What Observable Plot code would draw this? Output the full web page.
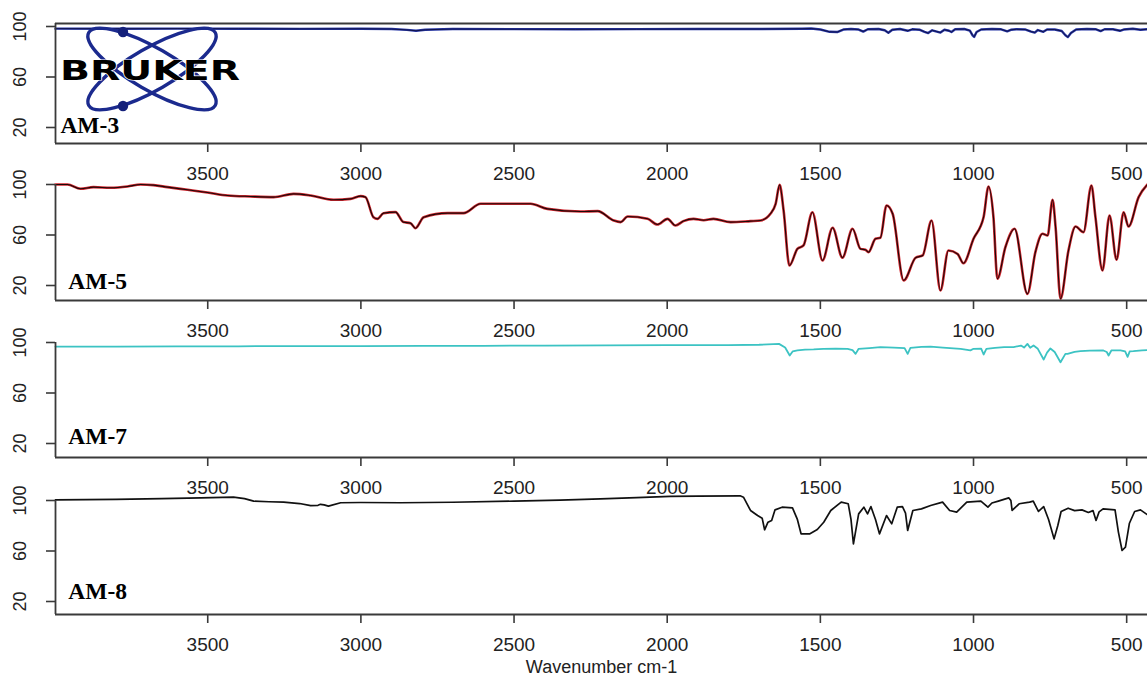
<!DOCTYPE html>
<html><head><meta charset="utf-8">
<script src="https://cdn.jsdelivr.net/npm/d3@7"></script>
<script src="https://cdn.jsdelivr.net/npm/@observablehq/plot@0.6"></script>
<style>
body{margin:0;background:#fff;}
#chart{position:relative;width:1147px;height:682px;overflow:hidden;background:#fff;}
#chart svg{position:absolute;left:0;overflow:visible;}
</style></head><body><div id="chart"></div>
<script>
// ---- data ----
const xTicks = [3500, 3000, 2500, 2000, 1500, 1000, 500];
const yTicks = [20, 60, 100];
const sampleNames = ["AM-3", "AM-5", "AM-7", "AM-8"];
const axisTitle = "Wavenumber cm-1";

// [wavenumber, transmittance]
const am3 = [[3997,98.3],[3800,98.2],[3600,98.3],[3400,98.2],[3200,98.1],[3000,98.2],[2900,98.0],[2850,97.3],[2820,96.6],[2790,97.4],[2700,98.0],[2500,97.9],[2300,97.8],[2100,97.9],[1900,98.0],[1700,98.0],[1560,98.2],[1530,98.4],[1500,97.6],[1470,95.8],[1445,95.6],[1425,97.6],[1400,98.0],[1375,97.6],[1360,96.0],[1345,97.8],[1310,98.0],[1290,97.0],[1278,95.0],[1265,97.4],[1240,98.0],[1215,96.6],[1200,97.8],[1175,97.4],[1160,95.8],[1148,94.8],[1135,97.0],[1120,96.0],[1108,95.2],[1095,97.4],[1080,96.6],[1072,95.6],[1060,97.8],[1030,98.0],[1012,96.8],[1003,93.0],[998,91.8],[990,95.6],[975,97.6],[940,98.0],[910,97.8],[890,96.2],[878,97.4],[860,97.8],[830,97.6],[812,96.0],[800,95.2],[790,97.2],[772,95.8],[760,97.6],[735,97.6],[712,96.4],[700,93.0],[692,91.6],[682,94.8],[665,97.6],[630,98.0],[600,97.8],[585,96.4],[572,97.8],[545,97.8],[522,96.6],[510,97.6],[480,98.2],[455,97.4],[432,97.8]];

const am5 = [[3997,100],[3958,100],[3915,96.6],[3873,97.9],[3817,97.4],[3762,98.4],[3719,100],[3677,99.5],[3631,97.9],[3566,95.8],[3501,93.7],[3435,91.3],[3360,90.5],[3285,90.0],[3220,92.6],[3164,91.3],[3089,87.9],[3034,88.6],[3001,90.8],[2985,90.0],[2959,74.1],[2946,72.8],[2926,77.3],[2887,78.1],[2861,70.2],[2838,69.4],[2822,65.4],[2795,74.1],[2717,77.3],[2665,77.3],[2609,84.7],[2446,84.7],[2391,80.7],[2283,78.6],[2227,78.9],[2175,71.5],[2152,70.2],[2129,74.7],[2064,72.8],[2032,68.3],[1999,72.8],[1973,67.5],[1947,71.0],[1914,72.8],[1881,71.7],[1849,72.8],[1793,70.2],[1728,71.0],[1695,71.5],[1663,76.8],[1646,84.7],[1633,99.7],[1620,79.4],[1601,35.8],[1575,49.0],[1555,51.7],[1526,78.0],[1493,39.8],[1460,65.7],[1428,42.0],[1395,64.9],[1369,49.0],[1353,48.3],[1343,46.4],[1320,57.0],[1304,57.8],[1284,83.4],[1264,76.8],[1228,24.0],[1189,42.0],[1166,43.8],[1137,71.5],[1108,16.0],[1082,47.7],[1052,45.0],[1033,37.6],[1000,57.0],[967,74.3],[951,98.4],[935,74.3],[922,25.3],[896,50.3],[866,64.9],[824,13.4],[798,46.4],[775,61.0],[758,59.6],[742,87.9],[732,66.0],[716,9.5],[690,47.7],[667,66.7],[641,62.2],[615,99.2],[602,74.3],[579,31.9],[556,75.4],[533,40.4],[510,78.0],[494,66.7],[461,90.0],[432,100]];

const am7 = [[3997,96.8],[3800,96.8],[3600,96.9],[3400,97.0],[3200,97.2],[3000,97.1],[2800,97.3],[2600,97.4],[2400,97.6],[2200,97.7],[2000,97.9],[1800,98.0],[1700,98.2],[1635,98.9],[1615,96.0],[1600,89.7],[1590,93.0],[1575,93.7],[1550,94.4],[1522,94.5],[1490,95.0],[1450,95.2],[1411,95.0],[1395,94.0],[1385,91.0],[1375,95.0],[1340,95.6],[1304,96.3],[1260,96.0],[1225,95.6],[1215,91.0],[1206,95.8],[1170,96.6],[1140,96.8],[1100,96.0],[1042,95.0],[1010,93.8],[1000,95.0],[975,95.2],[967,90.5],[958,95.0],[930,95.8],[900,96.3],[869,96.4],[845,97.6],[835,96.0],[824,98.9],[815,95.8],[804,97.6],[790,95.0],[771,86.5],[760,92.0],[749,95.3],[735,92.5],[716,84.4],[700,91.0],[693,91.0],[670,92.5],[651,93.1],[620,93.5],[576,93.7],[565,92.5],[559,89.7],[550,93.7],[520,93.8],[505,93.0],[497,88.6],[490,93.0],[478,93.1],[450,93.8],[432,94.0]];

const am8 = [[3997,100.5],[3800,100.9],[3650,101.5],[3523,102.1],[3416,102.6],[3380,101.5],[3350,99.5],[3300,99.0],[3252,98.7],[3200,97.6],[3164,96.0],[3140,96.2],[3132,97.0],[3120,96.5],[3106,95.5],[3066,98.2],[3000,98.4],[2871,98.2],[2700,98.6],[2500,99.5],[2350,100.3],[2218,101.3],[2100,102.2],[1990,103.2],[1900,103.4],[1762,103.7],[1751,102.6],[1728,92.1],[1705,88.1],[1690,86.0],[1682,76.8],[1671,82.8],[1659,84.2],[1648,92.6],[1625,94.7],[1591,94.2],[1575,85.0],[1563,73.6],[1534,73.6],[1510,77.0],[1489,82.8],[1466,92.1],[1432,98.7],[1409,97.4],[1400,85.0],[1392,65.7],[1375,89.4],[1358,94.7],[1346,89.4],[1335,95.2],[1320,85.0],[1307,73.6],[1284,88.1],[1267,81.5],[1249,94.7],[1232,95.2],[1222,90.0],[1215,76.3],[1198,92.1],[1170,93.4],[1140,96.0],[1101,98.7],[1078,92.1],[1055,90.8],[1022,98.7],[976,99.5],[953,94.7],[940,98.0],[919,99.5],[885,102.1],[878,100.0],[874,92.1],[851,97.4],[817,98.7],[805,99.5],[788,91.3],[771,95.2],[755,85.0],[737,69.6],[725,80.0],[714,91.3],[691,93.9],[670,92.0],[646,92.6],[625,90.5],[610,92.0],[600,84.2],[590,91.0],[577,93.4],[538,92.6],[527,75.0],[515,60.4],[504,63.0],[491,82.0],[474,91.3],[455,92.6],[434,89.0]];

const spectra = [am3, am5, am7, am8];

// ---- layout / style ----
const W = 1147, ML = 55;
const xDomain = [3997, 432];
const pxPerUnit = 1.2625;
const panels = [
  {top: 23, y100: 26, bottom: 143, box: true, labelX: 3981, labelY: 16.0,
   strokes: [{c: "#2636a6", w: 2.4}, {c: "#10124a", w: 1.0}]},
  {top: 181, y100: 184, bottom: 300, box: false, labelX: 3955, labelY: 17.6,
   strokes: [{c: "#d0262e", w: 2.6}, {c: "#1a0808", w: 1.1}], curve: "monotone-x"},
  {top: 339, y100: 342, bottom: 457, box: false, labelX: 3955, labelY: 19.5,
   strokes: [{c: "#3cc3c3", w: 1.8}]},
  {top: 497, y100: 500, bottom: 614, box: false, labelX: 3955, labelY: 22.0,
   strokes: [{c: "#111", w: 1.7}]}
];
const axisColor = "#3a3a3a";
const font = "'Liberation Sans', Arial, sans-serif";

const chart = document.getElementById("chart");

panels.forEach((p, i) => {
  const data = spectra[i].map(([w, v]) => ({w, v}));
  const ymin = 100 - (p.bottom - p.y100) / pxPerUnit;
  const ymax = 100 + (p.y100 - p.top) / pxPerUnit;
  const mt = 20;
  const mb = i === 3 ? 682 - p.bottom : 60;
  const h = mt + (p.bottom - p.top) + mb;
  const marks = [];
  p.strokes.forEach(s => marks.push(Plot.line(data, {x: "w", y: "v", stroke: s.c, strokeWidth: s.w, curve: p.curve || "linear", strokeLinejoin: "round"})));
  marks.push(Plot.ruleY([ymin], {stroke: axisColor, strokeWidth: 1.8}));
  marks.push(Plot.ruleX([xDomain[0]], {y1: ymin, y2: p.box ? ymax : 100, stroke: axisColor, strokeWidth: 1.8}));
  if (p.box) marks.push(Plot.ruleY([ymax], {stroke: axisColor, strokeWidth: 1.8}));
  marks.push(Plot.axisX({ticks: xTicks, tickFormat: d => String(d), tickSize: 9, tickPadding: 14, fontSize: 19, label: null, stroke: axisColor, strokeWidth: 1.6}));
  marks.push(Plot.axisY({ticks: yTicks, tickSize: 9, tickFormat: () => "", label: null, stroke: axisColor, strokeWidth: 1.6}));
  marks.push(Plot.text(yTicks, {y: d => d, text: d => String(d), frameAnchor: "left", dx: -35, rotate: -90, textAnchor: "middle", lineAnchor: "middle", fontSize: 18, fill: "#222"}));
  marks.push(Plot.text([sampleNames[i]], {x: p.labelX, y: p.labelY, text: d => d, textAnchor: "start", lineAnchor: "bottom", fontSize: 23.5, fontWeight: "bold", fontFamily: "'Liberation Serif', 'Times New Roman', serif", fill: "#000"}));
  if (i === 3) marks.push(Plot.text([axisTitle], {frameAnchor: "bottom", dy: 53, text: d => d, lineAnchor: "middle", fontSize: 18, fill: "#222"}));
  const svg = Plot.plot({
    width: W, height: h,
    marginLeft: ML, marginRight: 0, marginTop: mt, marginBottom: mb,
    x: {domain: xDomain},
    y: {domain: [ymin, ymax]},
    style: {background: "transparent", color: "#222", fontFamily: font, overflow: "visible"},
    marks
  });
  svg.style.top = (p.top - mt) + "px";
  chart.appendChild(svg);
});

// Bruker logo (decoration) on the first panel
const logo = d3.select(chart).append("svg").attr("width", W).attr("height", 150).style("top", "0px");
const cx = 152, cy = 69;
[30, -30].forEach(a => logo.append("ellipse").attr("cx", cx).attr("cy", cy).attr("rx", 73).attr("ry", 21)
  .attr("transform", `rotate(${a} ${cx} ${cy})`).attr("fill", "none").attr("stroke", "#1b2a8e").attr("stroke-width", 3.4));
logo.append("circle").attr("cx", 123).attr("cy", 32).attr("r", 5.2).attr("fill", "#14207a");
logo.append("circle").attr("cx", 123).attr("cy", 106).attr("r", 5.2).attr("fill", "#14207a");
logo.append("text").attr("x", 60).attr("y", 80).attr("textLength", 180).attr("lengthAdjust", "spacingAndGlyphs")
  .style("font", "bold 27px 'DejaVu Sans', sans-serif").attr("fill", "#000")
  .attr("stroke", "#fff").attr("stroke-width", 1.2).attr("paint-order", "stroke").text("BRUKER");
</script></body></html>
